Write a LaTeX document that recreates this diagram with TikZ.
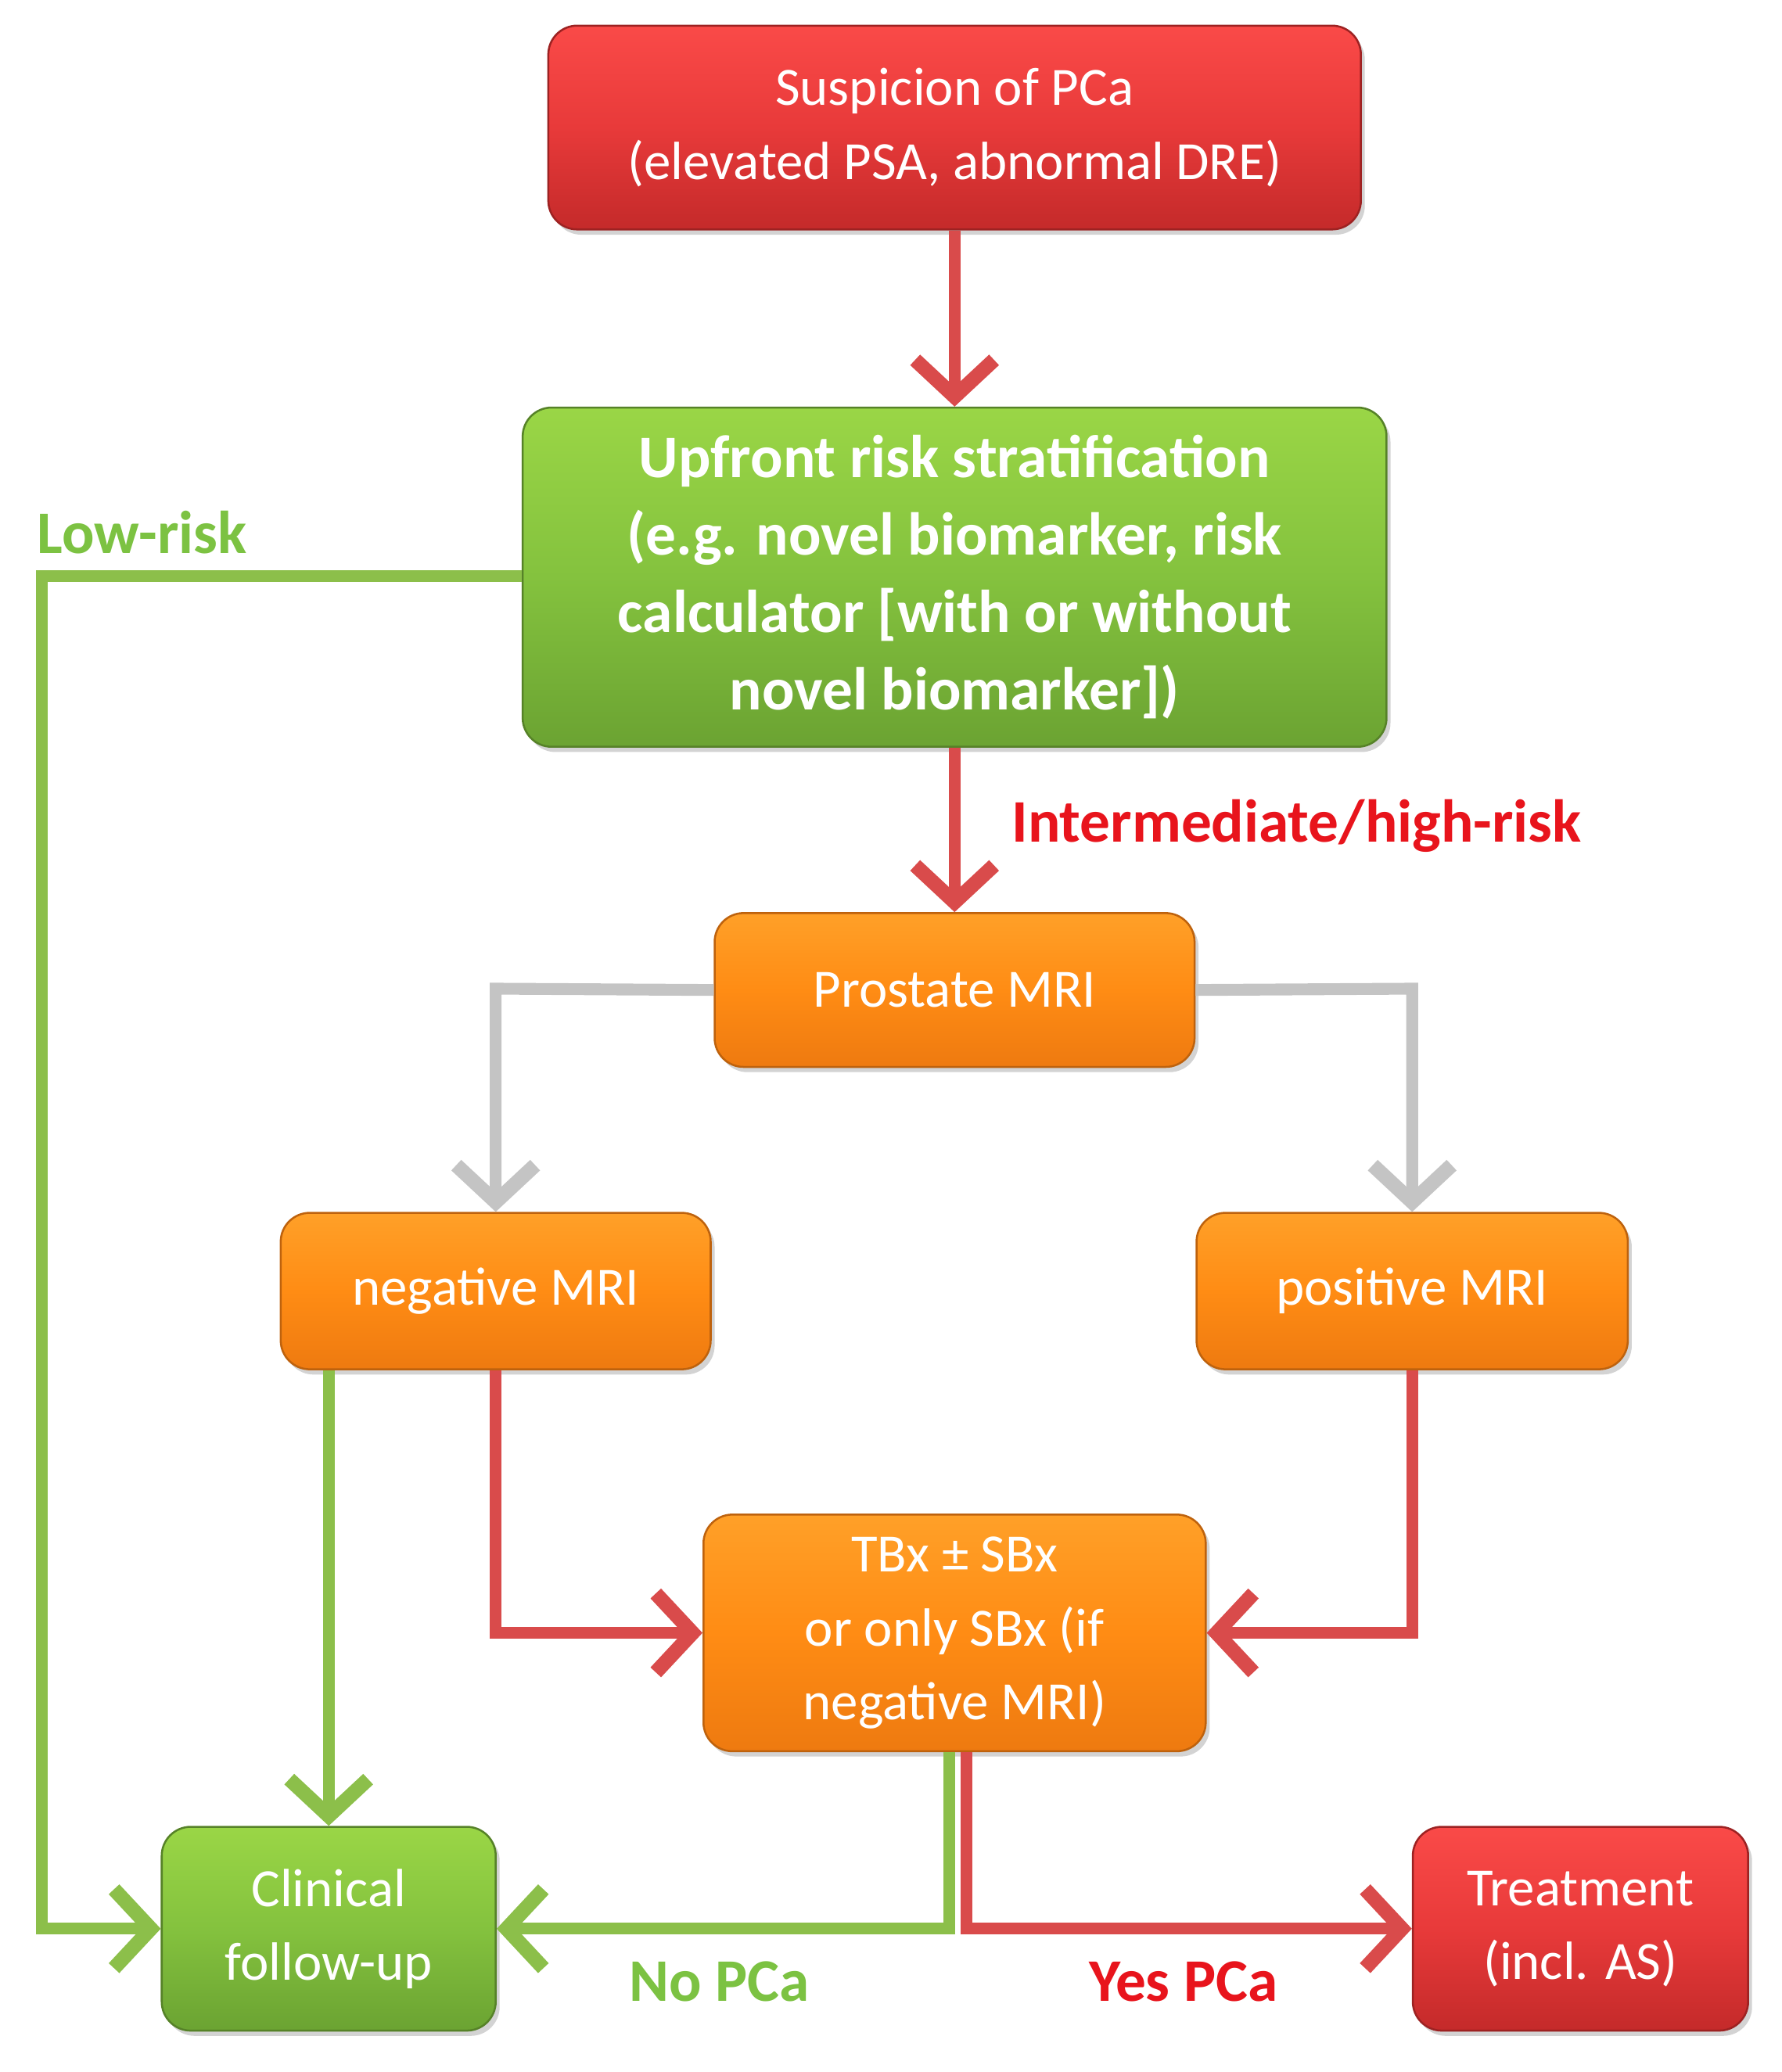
\documentclass[tikz,border=0pt]{standalone}
\usepackage{fontspec}
\setmainfont{Carlito}
\usetikzlibrary{arrows.meta,shadows}
\definecolor{rd}{HTML}{D94B4B}
\definecolor{gr}{HTML}{8CBF4A}
\definecolor{gy}{HTML}{C4C4C4}
\definecolor{lgr}{HTML}{7CC242}
\definecolor{lrd}{HTML}{E8141C}
\definecolor{rt}{HTML}{FA4A48}\definecolor{rm}{HTML}{E83A3A}\definecolor{rb}{HTML}{C42A2A}
\definecolor{gt}{HTML}{9AD646}\definecolor{gm}{HTML}{84C23E}\definecolor{gb}{HTML}{6BA332}
\definecolor{ot}{HTML}{FFA028}\definecolor{om}{HTML}{FF8C14}\definecolor{ob}{HTML}{EE7A10}
\begin{document}
\begin{tikzpicture}[x=1pt,y=-1pt,
 box/.style={rounded corners=22pt,line width=1.5pt,align=center,text=white,font=\fontsize{41}{56}\selectfont,inner sep=0pt,
   drop shadow={shadow xshift=3pt,shadow yshift=-4pt,opacity=0.35}},
 redbox/.style={box,draw=rb!80!black,top color=rt,bottom color=rb,middle color=rm},
 greenbox/.style={box,draw=gb!80!black,top color=gt,bottom color=gb,middle color=gm},
 orbox/.style={box,draw=ob!80!black,top color=ot,bottom color=ob,middle color=om},
 con/.style={line width=9pt,-{Straight Barb[length=28pt,width=60pt,line width=11pt]}},
 lab/.style={font=\bfseries\fontsize{46}{52}\selectfont}]
\useasboundingbox (0,0) rectangle (1355,1576);
\node[redbox,minimum width=618pt,minimum height=155pt] (s) at (726,97) {Suspicion of PCa\\(elevated PSA, abnormal DRE)};
\node[greenbox,minimum width=657pt,minimum height=258pt,font=\bfseries\fontsize{46}{59}\selectfont] (u) at (726,439) {Upfront risk stratification\\(e.g. novel biomarker, risk\\calculator [with or without\\novel biomarker])};
\node[orbox,minimum width=365pt,minimum height=117pt] (p) at (726,753) {Prostate MRI};
\node[orbox,minimum width=327pt,minimum height=119pt] (n) at (377,982) {negative MRI};
\node[orbox,minimum width=328pt,minimum height=119pt] (q) at (1074,982) {positive MRI};
\node[orbox,minimum width=382pt,minimum height=180pt] (t) at (726,1242) {TBx ± SBx\\or only SBx (if\\negative MRI)};
\node[greenbox,minimum width=254pt,minimum height=155pt] (c) at (250,1467) {Clinical\\follow-up};
\node[redbox,minimum width=255pt,minimum height=155pt] (r) at (1202,1467) {Treatment\\(incl. AS)};
\coordinate (c1) at (32,438);
\coordinate (c2) at (32,1467);
\coordinate (g1) at (377,752);
\coordinate (g2) at (1074,752);
\coordinate (k1) at (377,1242);
\coordinate (k2) at (1074,1242);
\coordinate (m1) at (722,1467);
\coordinate (m2) at (735,1467);
\draw[con,rd] (s.south) -- (u.north);
\draw[con,rd] (u.south) -- (p.north);
\draw[con,gy] (p.west) -- (g1) -- (n.north);
\draw[con,gy] (p.east) -- (g2) -- (q.north);
\draw[con,gr] (u.west |- c1) -- (c1) -- (c2) -- (c.west);
\draw[con,gr] (n.south -| 250,0) -- (c.north);
\draw[con,rd] (n.south) -- (k1) -- (t.west);
\draw[con,rd] (q.south) -- (k2) -- (t.east);
\draw[con,gr] (t.south -| m1) -- (m1) -- (c.east);
\draw[con,rd] (t.south -| m2) -- (m2) -- (r.west);
\node[lab,text=lrd,anchor=west] (l1) at (766,628) {Intermediate/high-risk};
\node[lab,text=lgr,anchor=west] (l2) at (25,405) {Low-risk};
\node[lab,text=lgr] (l3) at (547,1507) {No PCa};
\node[lab,text=lrd] (l4) at (900,1507) {Yes PCa};
\end{tikzpicture}
\end{document}
